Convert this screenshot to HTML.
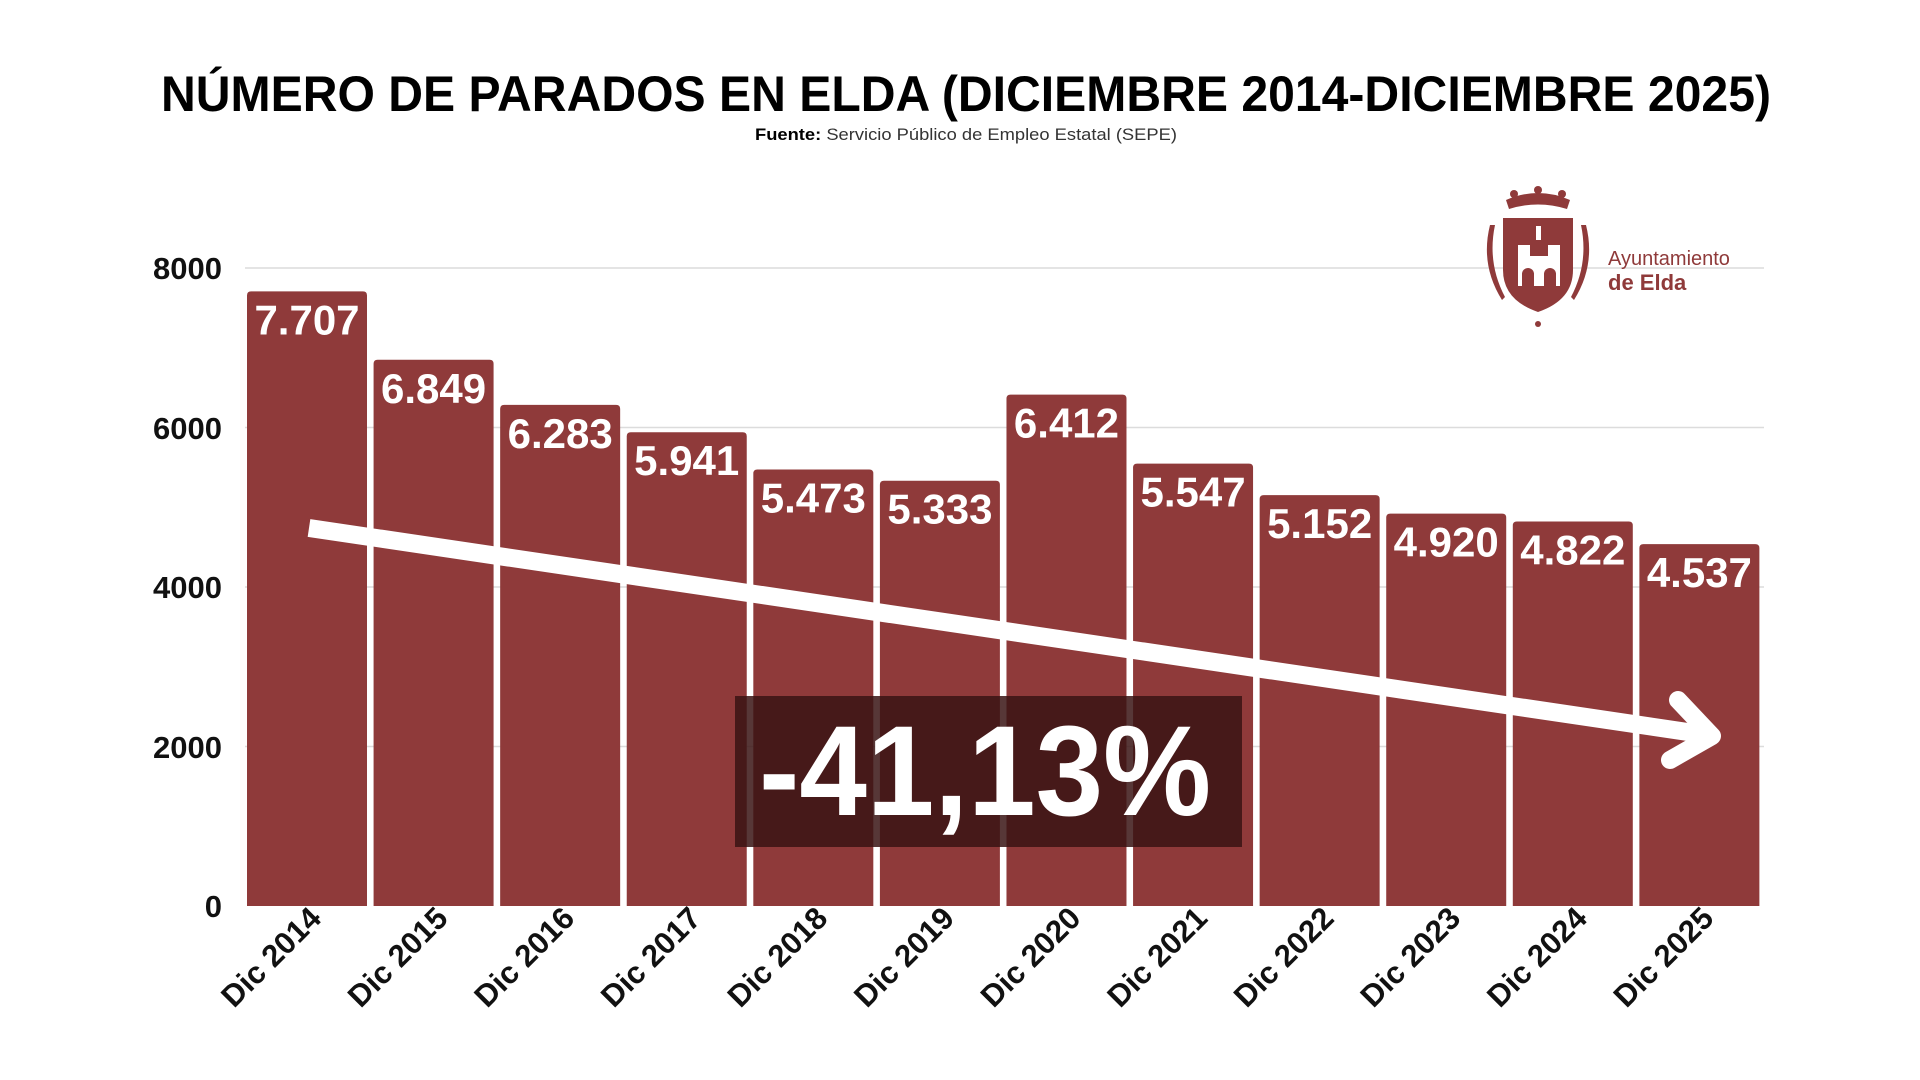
<!DOCTYPE html>
<html><head><meta charset="utf-8"><style>
html,body{margin:0;padding:0;background:#fff;width:1920px;height:1080px;overflow:hidden}
svg{display:block;font-family:"Liberation Sans",sans-serif}
</style></head><body>
<svg width="1920" height="1080" viewBox="0 0 1920 1080">
<text x="966" y="111" text-anchor="middle" font-size="50" font-weight="bold" fill="#000" textLength="1610" lengthAdjust="spacingAndGlyphs">NÚMERO DE PARADOS EN ELDA (DICIEMBRE 2014-DICIEMBRE 2025)</text>
<text x="966" y="140" text-anchor="middle" font-size="17" fill="#333" textLength="422" lengthAdjust="spacingAndGlyphs"><tspan font-weight="bold" fill="#000">Fuente:</tspan> Servicio Público de Empleo Estatal (SEPE)</text>
<g stroke="#dcdcdc" stroke-width="1.5">
<line x1="245" y1="268" x2="1764" y2="268"/><line x1="245" y1="427.5" x2="1764" y2="427.5"/>
<line x1="245" y1="587" x2="1764" y2="587"/><line x1="245" y1="746.5" x2="1764" y2="746.5"/>
</g>
<g font-size="31" font-weight="bold" text-anchor="end" fill="#111">
<text x="222" y="279">8000</text><text x="222" y="439">6000</text><text x="222" y="598">4000</text><text x="222" y="758">2000</text><text x="222" y="917">0</text>
</g>
<g id="bars" fill="#8f3a3a"></g>
<g id="vals" fill="#fff" font-size="42" font-weight="bold" text-anchor="middle"></g>
<g id="xl" fill="#111" font-size="31" font-weight="bold" text-anchor="end"></g>
<g stroke="#fff" stroke-width="18" fill="none" stroke-linecap="butt">
<line x1="309" y1="528" x2="1708" y2="735"/>
<polyline points="1678,700 1712,736 1670,760" stroke-linejoin="round" stroke-linecap="round"/>
</g>
<rect x="735" y="696" width="507" height="151" fill="#3a1414" fill-opacity="0.85"/>
<text x="985" y="815" text-anchor="middle" font-size="128" font-weight="bold" fill="#fff" textLength="452" lengthAdjust="spacingAndGlyphs">-41,13%</text>
<g fill="#8f3a3a">
<path d="M1503,218 h70 v52 q0,30 -35,42 q-35,-12 -35,-42 z"/>
<path d="M1506,200 q32,-14 64,0 l-3,9 q-29,-9 -58,0 z"/>
<circle cx="1514" cy="194" r="4"/><circle cx="1538" cy="190" r="4"/><circle cx="1562" cy="194" r="4"/>
<path d="M1490,225 q-10,40 12,75 l3,-3 q-18,-34 -10,-72 z"/><path d="M1586,225 q10,40 -12,75 l-3,-3 q18,-34 10,-72 z"/>
<circle cx="1538" cy="324" r="3"/>
<text x="1608" y="265" font-size="20">Ayuntamiento</text>
<text x="1608" y="290" font-size="22" font-weight="bold">de Elda</text>
</g>
<g fill="#fff"><rect x="1518" y="256" width="42" height="30"/><rect x="1518" y="245" width="12" height="12"/><rect x="1548" y="245" width="12" height="12"/><rect x="1536" y="226" width="5" height="14"/></g>
<g fill="#8f3a3a"><path d="M1522,286 v-12 a6,6 0 0 1 12,0 v12 z"/><path d="M1544,286 v-12 a6,6 0 0 1 12,0 v12 z"/></g>
</svg>
<script>
var v=[7707,6849,6283,5941,5473,5333,6412,5547,5152,4920,4822,4537];
var ns="http://www.w3.org/2000/svg",b=document.getElementById('bars'),t=document.getElementById('vals'),x=document.getElementById('xl');
v.forEach(function(val,i){
 var x0=245+i*126.58+2,w=120,top=906-val/8000*638;
 var p=document.createElementNS(ns,'path');
 p.setAttribute('d','M'+x0+',906 V'+(top+4)+' q0,-4 4,-4 H'+(x0+w-4)+' q4,0 4,4 V906 Z');
 b.appendChild(p);
 var tx=document.createElementNS(ns,'text');tx.setAttribute('x',x0+w/2);tx.setAttribute('y',top+43);
 tx.textContent=(val/1000).toFixed(3);t.appendChild(tx);
 var lx=x0+w/2+16,ly=920;
 var l=document.createElementNS(ns,'text');l.setAttribute('x',lx);l.setAttribute('y',ly);
 l.setAttribute('transform','rotate(-45 '+lx+' '+ly+')');l.textContent='Dic '+(2014+i);x.appendChild(l);
});
</script>
</body></html>
